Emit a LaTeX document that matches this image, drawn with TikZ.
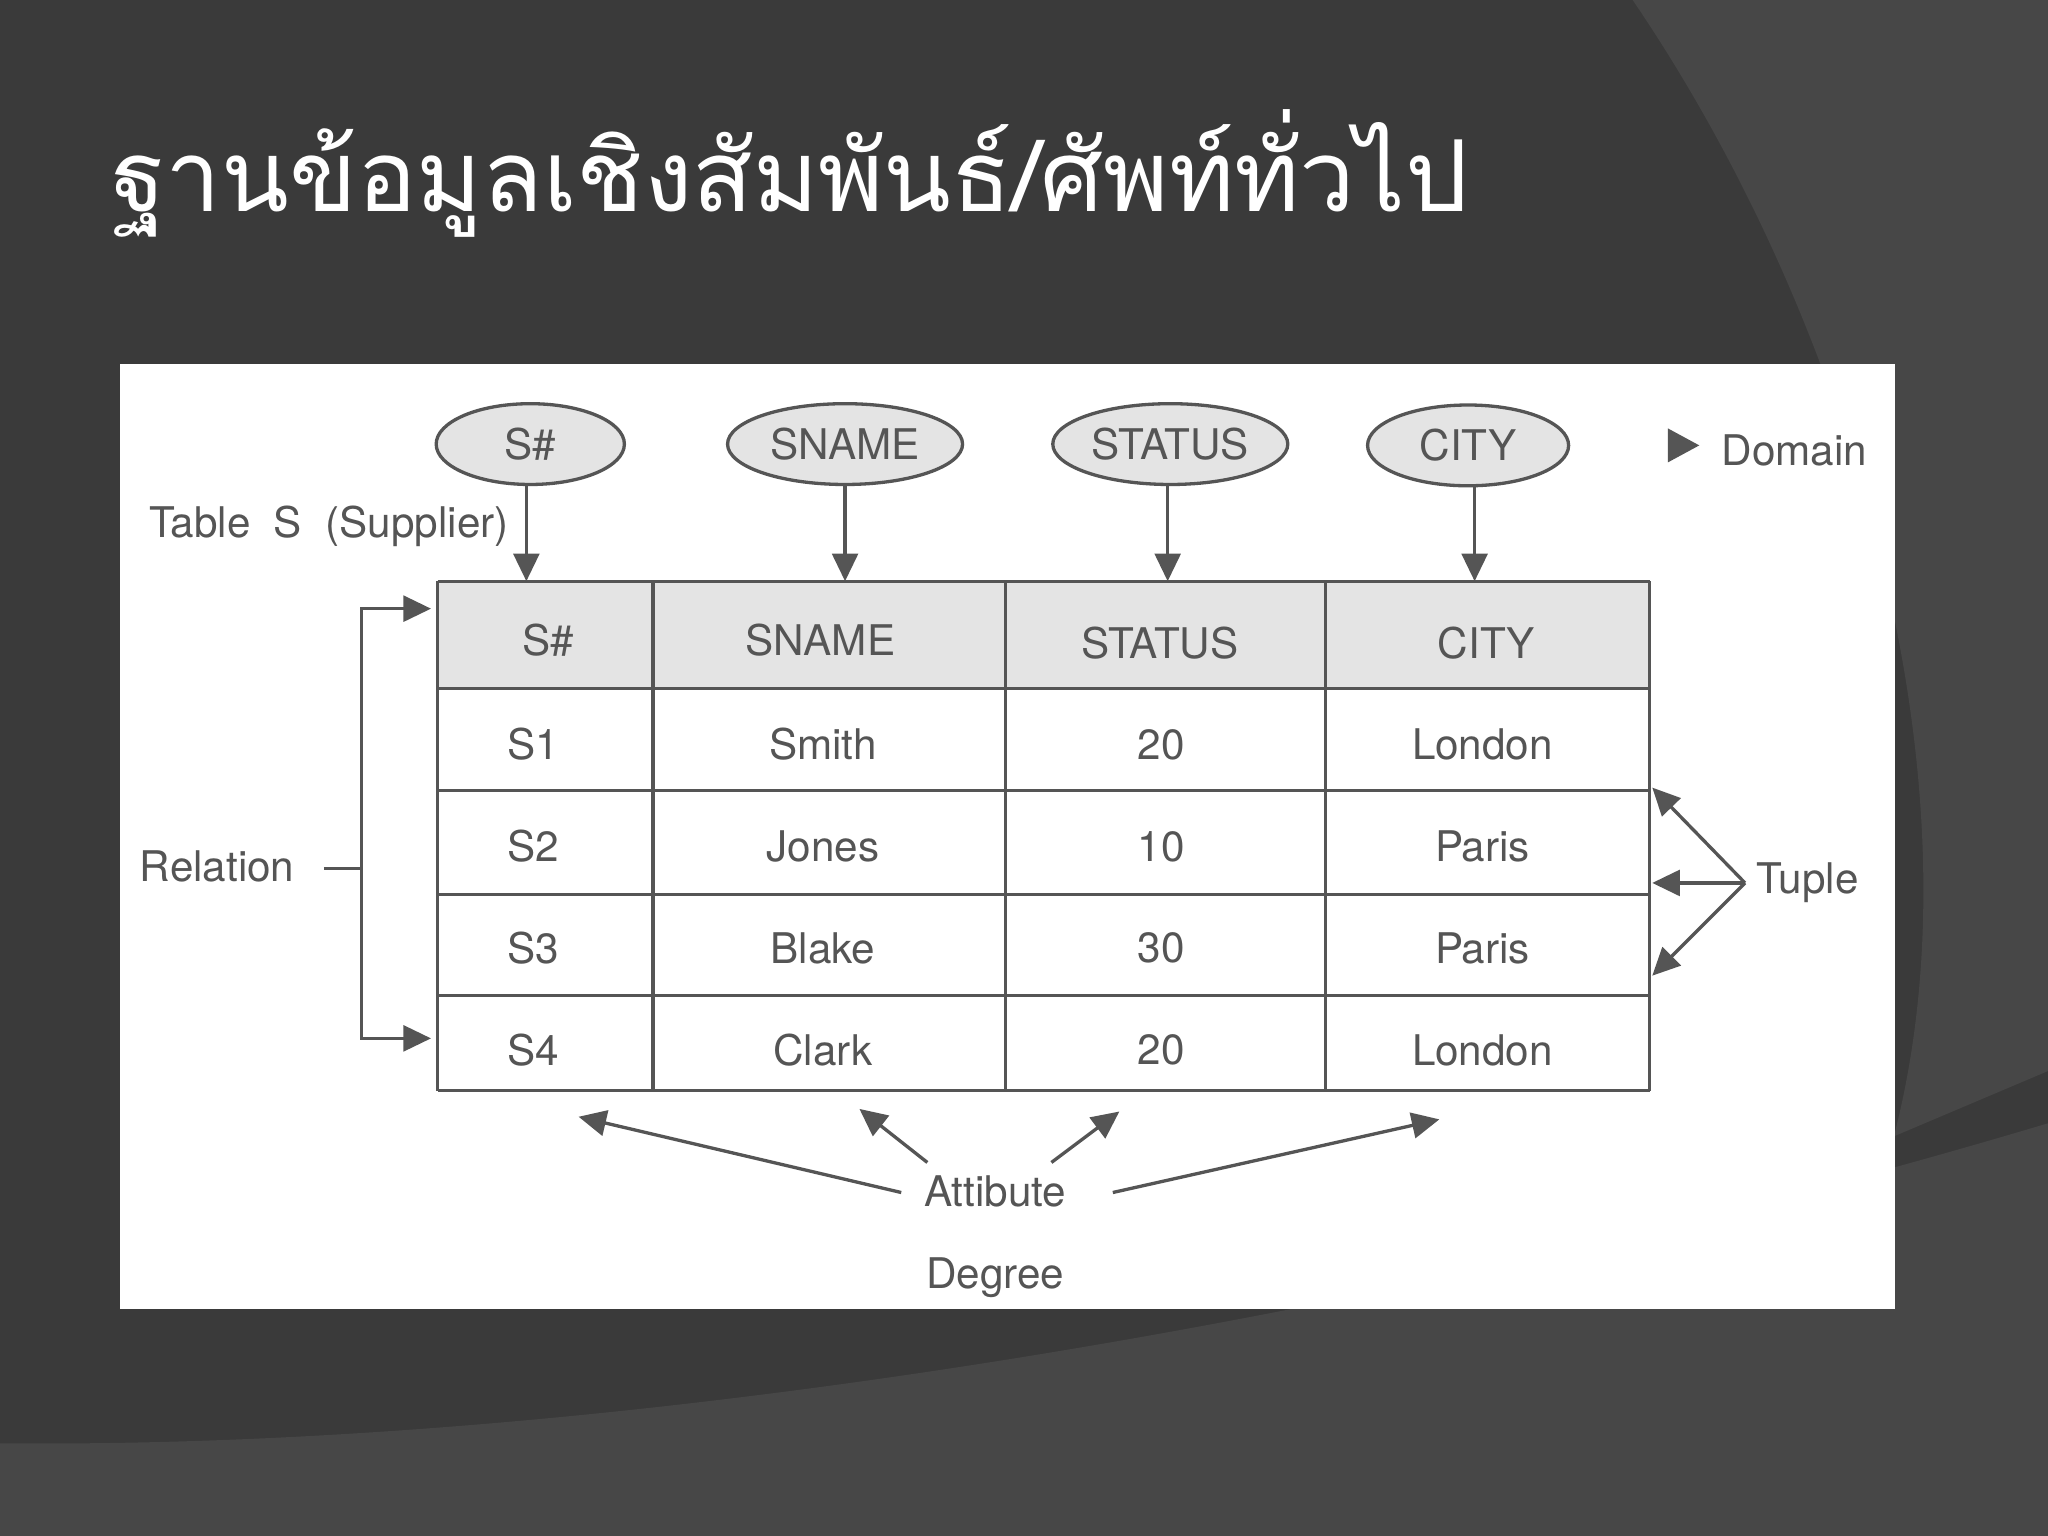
\documentclass[tikz,border=0pt]{standalone}
\usepackage{fontspec}
\setmainfont{TeX Gyre Heros}
\newfontfamily\thaifont[Script=Thai]{Loma}
\usetikzlibrary{shapes.geometric,arrows.meta}
\definecolor{bgdark}{HTML}{3A3A3A}
\definecolor{bglight}{HTML}{474747}
\definecolor{ink}{HTML}{555555}
\definecolor{hdr}{HTML}{E4E4E4}
\tikzset{
 txt/.style={font=\fontsize{46}{50}\selectfont, text=ink, inner sep=0pt},
 ell/.style={ellipse, draw=ink, line width=3.6pt, fill=hdr, minimum height=88pt, inner sep=0pt},
 arr/.style={draw=ink, line width=3.6pt, -{Triangle[length=30pt,width=28pt]}},
 ln/.style={draw=ink, line width=3.6pt},
}
\begin{document}
\begin{tikzpicture}[x=0.05cm,y=-0.05cm]
\fill[bgdark] (0,0) rectangle (1568,1176);
\fill[bglight] (1250,0) .. controls (1420,250) and (1520,600) .. (1450,870) -- (1568,820) -- (1568,0) -- cycle;
\fill[bglight] (0,1105) .. controls (500,1110) and (1100,1000) .. (1568,860) -- (1568,1176) -- (0,1176) -- cycle;
\useasboundingbox (0,0) rectangle (1568,1176);
\node[anchor=base west, text=white, font=\thaifont\fontsize{108}{108}\selectfont, inner sep=0pt] (title) at (85,162) {ฐานข้อมูลเชิงสัมพันธ์/ศัพท์ทั่วไป};
\fill[white] (92,279) rectangle (1451,1002);
% table
\fill[hdr] (335,445) rectangle (1263,527);
\foreach \y in {445,527,605,685,762,835} \draw[ln] (335,\y) -- (1263,\y);
\foreach \x in {335,500,770,1015,1263} \draw[ln] (\x,445) -- (\x,835);
\node[txt] (h1) at (420,490) {S\#};
\node[txt] (h2) at (628,490) {SNAME};
\node[txt] (h3) at (888,492) {STATUS};
\node[txt] (h4) at (1138,492) {CITY};
\foreach \a/\b/\c/\d/\y in {S1/Smith/20/London/570, S2/Jones/10/Paris/648, S3/Blake/30/Paris/726, S4/Clark/20/London/804}{
 \node[txt] at (408,\y) {\a};
 \node[txt] at (630,\y) {\b};
 \node[txt] at (889,\y) {\c};
 \node[txt] at (1135,\y) {\d};
}
% domains
\node[ell, minimum width=205pt, txt] (e1) at (406,340) {S\#};
\node[ell, minimum width=256pt, txt] (e2) at (647,340) {SNAME};
\node[ell, minimum width=256pt, txt] (e3) at (896,340) {STATUS};
\node[ell, minimum width=219pt, txt] (e4) at (1124,341) {CITY};
\coordinate (d1) at (403,445); \coordinate (d2) at (647,445);
\coordinate (d3) at (894,445); \coordinate (d4) at (1129,445);
\draw[arr] (403,372) -- (d1);
\draw[arr] (e2) -- (d2);
\draw[arr] (894,372) -- (d3);
\draw[arr] (1129,372) -- (d4);
\fill[ink] (1277,328) -- (1301,341) -- (1277,354) -- cycle;
\node[txt, anchor=west] (dom) at (1318,345) {Domain};
\node[txt, anchor=west] (tbl) at (114,403) {Table~~S~~(Supplier)};
% relation
\node[txt, anchor=west] (rel) at (107,663) {Relation};
\coordinate (r1) at (330,466); \coordinate (r2) at (330,795);
\draw[ln] (248,665) -- (277,665);
\draw[arr] (277,665) |- (r1);
\draw[arr] (277,665) |- (r2);
% tuple
\node[txt, anchor=west] (tup) at (1345,676) {Tuple};
\coordinate (tp) at (1336,676);
\coordinate (t1) at (1265,603); \coordinate (t2) at (1265,676); \coordinate (t3) at (1265,747);
\draw[arr] (tp) -- (t1);
\draw[arr] (tp) -- (t2);
\draw[arr] (tp) -- (t3);
% attribute
\node[txt] (att) at (762,912) {Attibute};
\node[txt] (deg) at (762,978) {Degree};
\coordinate (a1) at (443,855); \coordinate (a2) at (658,849);
\coordinate (a3) at (857,851); \coordinate (a4) at (1102,857);
\draw[arr] (690,913) -- (a1);
\draw[arr] (710,890) -- (a2);
\draw[arr] (805,890) -- (a3);
\draw[arr] (852,913) -- (a4);
\end{tikzpicture}
\end{document}
